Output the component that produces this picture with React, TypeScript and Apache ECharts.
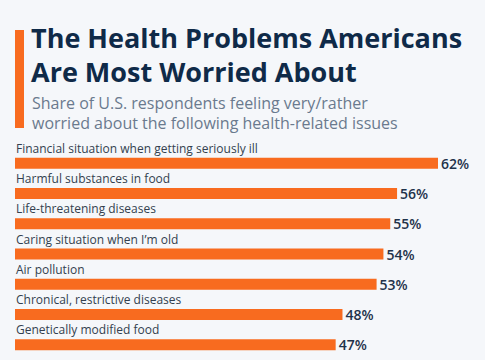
import React, { useEffect, useRef } from "react";
import * as echarts from "echarts";

const categories = [
  "Financial situation when getting seriously ill",
  "Harmful substances in food",
  "Life-threatening diseases",
  "Caring situation when I\u2019m old",
  "Air pollution",
  "Chronical, restrictive diseases",
  "Genetically modified food",
];
const values = [62, 56, 55, 54, 53, 48, 47];

const titleText = "The Health Problems Americans\nAre Most Worried About";
const subtitleText =
  "Share of U.S. respondents feeling very/rather\nworried about the following health-related issues";

export default function App() {
  const ref = useRef<HTMLDivElement>(null);
  useEffect(() => {
    if (!ref.current) return;
    const chart = echarts.init(ref.current, undefined, { renderer: "svg" });
    const font = "'Open Sans', 'Noto Sans', sans-serif";
    chart.setOption({
      animation: false,
      backgroundColor: "#f5f7fa",
      textStyle: { fontFamily: font },
      title: [
        {
          text: titleText,
          left: 31,
          top: 21,
          padding: 0,
          textStyle: {
            fontFamily: font,
            fontSize: 27,
            fontWeight: "bold",
            lineHeight: 33.5,
            color: "#0f2a48",
          },
        },
        {
          text: subtitleText,
          left: 32,
          top: 93,
          padding: 0,
          textStyle: {
            fontFamily: font,
            fontSize: 16,
            fontWeight: "normal",
            lineHeight: 20,
            color: "#6a7a8e",
          },
        },
      ],
      graphic: [
        {
          type: "rect",
          shape: { x: 15, y: 30, width: 9, height: 98 },
          style: { fill: "#f86b1f" },
        },
      ],
      grid: { left: 15, top: 148, width: 423, height: 218 },
      xAxis: {
        type: "value",
        min: 0,
        max: 62,
        show: false,
      },
      yAxis: {
        type: "category",
        data: categories,
        inverse: true,
        axisLine: { show: false },
        axisTick: { show: false },
        splitLine: { show: false },
        axisLabel: {
          inside: true,
          margin: 1,
          verticalAlign: "bottom",
          padding: [0, 0, 9, 0],
          fontSize: 12,
          fontFamily: font,
          color: "#333f4f",
        },
        z: 10,
      },
      series: [
        {
          type: "bar",
          data: values,
          barWidth: 11,
          itemStyle: { color: "#f86b1f" },
          label: {
            show: true,
            position: "right",
            distance: 3,
            formatter: "{c}%",
            fontSize: 14,
            fontWeight: 600,
            fontFamily: font,
            color: "#1f324a",
          },
        },
      ],
    });
    return () => chart.dispose();
  }, []);
  return <div ref={ref} style={{ width: 485, height: 360, position: "fixed", left: 0, top: 0 }} />;
}
